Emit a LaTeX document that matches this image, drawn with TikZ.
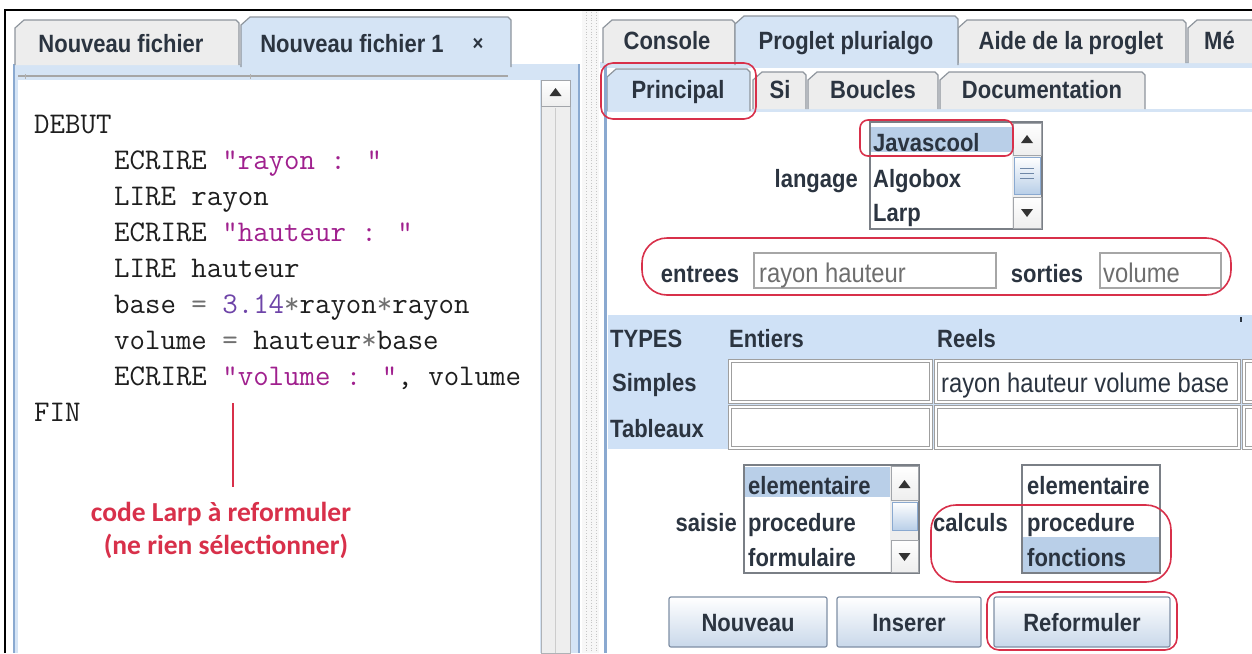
\documentclass[tikz,border=0pt]{standalone}
\usepackage{fontspec}
\newfontfamily\guifont[FakeStretch=0.88]{Liberation Sans}
\newfontfamily\annfont{Carlito}
\definecolor{tabgray}{HTML}{EDEDED}
\definecolor{tabborder}{HTML}{8E959D}
\definecolor{selblue}{HTML}{D5E4F5}
\definecolor{framebl}{HTML}{8AA9D0}
\definecolor{tablebg}{HTML}{CFE1F6}
\definecolor{listsel}{HTML}{B9CFE8}
\definecolor{redann}{HTML}{D8304A}
\definecolor{codetext}{HTML}{1E1E1E}
\definecolor{strc}{HTML}{A0208E}
\definecolor{numc}{HTML}{6E44A8}
\definecolor{opc}{HTML}{707070}
\definecolor{guitext}{HTML}{2B3440}
\definecolor{fieldtext}{HTML}{6E6E6E}
\definecolor{btnbottom}{HTML}{C9D8EA}
\definecolor{btnborder}{HTML}{7F8FA5}
\definecolor{listborder}{HTML}{7A7F86}
\definecolor{sbgray}{HTML}{EEEEEE}
\tikzset{
  gui/.style={font=\guifont\bfseries\fontsize{25}{30}\selectfont, inner sep=0, text=guitext},
  guir/.style={font=\guifont\fontsize{27}{32}\selectfont, inner sep=0},
  code/.style={font=\ttfamily\fontsize{30}{34}\selectfont\addfontfeatures{FakeBold=0.6}, inner sep=0, anchor=base west, text=codetext},
  ann/.style={font=\annfont\bfseries\fontsize{27.5}{33}\selectfont, inner sep=0, text=redann},
  tabg/.style={fill=tabgray, draw=tabborder, line width=1.2},
  tabs/.style={fill=selblue, draw=tabborder, line width=1.2},
  redmark/.style={draw=redann, line width=1.6},
  btn/.style={draw=btnborder, line width=1.2, top color=white, bottom color=btnbottom, rounded corners=2},
  lbox/.style={draw=listborder, line width=1.2, fill=white},
  sbtn/.style={draw=listborder!70, line width=0.8, top color=white, bottom color=sbgray},
  fieldbox/.style={draw=gray!70, line width=1.5, fill=white},
  cellbox/.style={draw=gray!75, line width=1, fill=white, double=white, double distance=1.2}
}
\newcommand{\uitab}[5][tabg]{\path[#1] (#2,#5) -- (#2,#4+8) -- (#2+9,#4) -- (#3-3,#4) -- (#3,#4+3) -- (#3,#5);}
\newcommand{\upar}[2]{\fill[black!80] (#1-6,#2+4) -- (#1+6,#2+4) -- (#1,#2-4) -- cycle;}
\newcommand{\dnar}[2]{\fill[black!80] (#1-6,#2-4) -- (#1+6,#2-4) -- (#1,#2+4) -- cycle;}
\def\op#1{{\color{opc}#1}}
\begin{document}
\begin{tikzpicture}[x=1pt,y=-1pt]
\path[use as bounding box] (0,0) rectangle (1252,653);
\clip (0,0) rectangle (1252,653);
\fill[white] (0,0) rectangle (1252,653);

% ---------- left panel ----------
\fill[selblue] (14,64) rectangle (580,653);
\draw[framebl, line width=1.5] (14,64) -- (14,653);
\draw[framebl, line width=1.5] (579,64) -- (579,653);
\fill[white] (18,80) rectangle (540,653);
\draw[gray!70, line width=2] (18,76) -- (508,76);
\draw[gray!60, line width=1] (25,74) -- (25,79) (250,74) -- (250,79);
\fill[sbgray] (541,80) rectangle (570,653);
\draw[listborder!60, line width=0.8] (541,80) rectangle (570,653);
\path[sbtn] (541,80) rectangle (570,106);
\upar{555.5}{92}
\draw[gray!40] (555,108) -- (555,653);

\uitab{15}{239}{20}{65}
\uitab[tabs]{241}{511}{17}{67}
\node[gui, anchor=base] (t1) at (121,52) {Nouveau fichier};
\node[gui, anchor=base] (t2) at (352,52) {Nouveau fichier 1};
\node[gui, anchor=base] (tx) at (478,50) {\fontsize{21}{24}\selectfont ×};

\node[code] (c0) at (34,133) {DEBUT};
\node[code] (c1) at (114,169) {ECRIRE {\color{strc}"rayon : "}};
\node[code] (c2) at (114,205) {LIRE rayon};
\node[code] (c3) at (114,241) {ECRIRE {\color{strc}"hauteur : "}};
\node[code] (c4) at (114,277) {LIRE hauteur};
\node[code] (c5) at (114,313) {base \op{=} {\color{numc}3.14}\op{*}rayon\op{*}rayon};
\node[code] (c6) at (114,349) {volume \op{=} hauteur\op{*}base};
\node[code] (c7) at (114,385) {ECRIRE {\color{strc}"volume : "}, volume};
\node[code] (c8) at (34,421) {FIN};

\node[ann, anchor=base] (a1) at (221,521) {code Larp à reformuler};
\node[ann, anchor=base] (a2) at (226,554) {(ne rien sélectionner)};
\coordinate (lt) at (233,403);
\draw[redann, line width=2] (lt) -- ([yshift=15pt]lt |- a1.north);

% divider
\fill[gray!6] (582,10) rectangle (599,653);
\foreach \xx in {586,591,596} \draw[gray!45, line width=0.8, dotted] (\xx,12) -- (\xx,653);

% ---------- right panel ----------
\fill[selblue] (600,62) rectangle (1252,68);
\uitab{603}{735}{20}{63}
\uitab{958}{1186}{20}{63}
\uitab{1188}{1270}{20}{63}
\uitab[tabs]{735}{958}{16}{65}
\node[gui, anchor=base] (o1) at (667,49) {Console};
\node[gui, anchor=base] (o2) at (846,49) {Proglet plurialgo};
\node[gui, anchor=base] (o3) at (1071,49) {Aide de la proglet};
\node[gui, anchor=base west] (o4) at (1204,49) {Mé};

\draw[selblue, line width=3] (605,110) -- (1252,110);
\uitab{753}{806}{72}{109}
\uitab{808}{938}{72}{109}
\uitab{940}{1145}{72}{109}
\uitab[tabs]{607}{750}{69}{111}
\draw[framebl, line width=3] (605,66) -- (605,653);
\node[gui, anchor=base] (i1) at (678,98) {Principal};
\node[gui, anchor=base] (i2) at (780,98) {Si};
\node[gui, anchor=base] (i3) at (873,98) {Boucles};
\node[gui, anchor=base] (i4) at (1042,98) {Documentation};
\draw[redmark, rounded corners=12] (601,63) rectangle (756,119);

% langage list
\path[lbox] (870,122) rectangle (1042,229);
\fill[listsel] (871,127) rectangle (1012,152);
\fill[sbgray] (1012,123) rectangle (1041,228);
\path[sbtn] (1013,123) rectangle (1041,155);
\upar{1027}{139}
\path[draw=framebl, line width=0.8, top color=white, bottom color=listsel] (1014,157) rectangle (1040,194);
\foreach \yy in {168,173,178} \draw[framebl!80!black, line width=0.8] (1020,\yy) -- (1034,\yy);
\path[sbtn] (1013,197) rectangle (1041,228);
\dnar{1027}{213}
\node[gui, anchor=base west] (l1) at (873,151) {Javascool};
\node[gui, anchor=base west] (l2) at (873,187) {Algobox};
\node[gui, anchor=base west] (l3) at (873,221) {Larp};
\node[gui, anchor=base east] (lab) at (858,187) {langage};
\draw[redmark, rounded corners=8] (860,120) rectangle (1013,156);

% entrees / sorties
\node[gui, anchor=base] (en) at (700,282) {entrees};
\path[fieldbox] (754,253) rectangle (996,288);
\node[guir, anchor=base west, text=fieldtext] (env) at (759,282) {rayon hauteur};
\node[gui, anchor=base] (so) at (1047,282) {sorties};
\path[fieldbox] (1100,253) rectangle (1221,288);
\node[guir, anchor=base west, text=fieldtext] (sov) at (1103,282) {volume};
\draw[redmark, rounded corners=25] (642,238) rectangle (1231,295);

% types table
\fill[tablebg] (608,315) rectangle (1252,449);
\node[gui, anchor=base west] (h1) at (610,347) {TYPES};
\node[gui, anchor=base west] (h2) at (729,347) {Entiers};
\node[gui, anchor=base west] (h3) at (937,347) {Reels};
\fill[guitext] (1240,317) rectangle (1241.5,322);
\path[cellbox] (730,361) rectangle (931,402);
\path[cellbox] (936,361) rectangle (1239,402);
\path[cellbox] (1244,361) rectangle (1270,402);
\path[cellbox] (730,407) rectangle (931,448);
\path[cellbox] (936,407) rectangle (1239,448);
\path[cellbox] (1244,407) rectangle (1270,448);
\node[gui, anchor=base west] (r1) at (612,391) {Simples};
\node[gui, anchor=base west] (r2) at (610,437) {Tableaux};
\node[guir, anchor=base west, text=guitext] (cv) at (941,392) {rayon hauteur volume base};

% saisie list
\node[gui, anchor=base east] (sa) at (737,531) {saisie};
\path[lbox] (744,465) rectangle (919,573);
\fill[listsel] (745,467) rectangle (890,497);
\fill[sbgray] (890,466) rectangle (918,572);
\path[sbtn] (891,466) rectangle (918,500);
\upar{904.5}{484}
\path[draw=framebl, line width=0.8, top color=white, bottom color=listsel] (892,502) rectangle (917,530);
\path[sbtn] (891,540) rectangle (918,572);
\dnar{904.5}{557}
\node[gui, anchor=base west] (s1) at (748,494) {elementaire};
\node[gui, anchor=base west] (s2) at (748,531) {procedure};
\node[gui, anchor=base west] (s3) at (748,566) {formulaire};

% calculs list
\node[gui, anchor=base west] (ca) at (933,531) {calculs};
\path[lbox] (1022,465) rectangle (1160,573);
\fill[listsel] (1023,537) rectangle (1159,572);
\node[gui, anchor=base west] (k1) at (1027,494) {elementaire};
\node[gui, anchor=base west] (k2) at (1027,531) {procedure};
\node[gui, anchor=base west] (k3) at (1027,566) {fonctions};
\draw[redmark, rounded corners=25] (931,505) rectangle (1171,582);

% buttons
\path[btn] (669,597) rectangle (827,647);
\path[btn] (837,597) rectangle (981,647);
\path[btn] (994,597) rectangle (1170,647);
\node[gui, anchor=base] (b1) at (748,631) {Nouveau};
\node[gui, anchor=base] (b2) at (909,631) {Inserer};
\node[gui, anchor=base] (b3) at (1082,631) {Reformuler};
\draw[redmark, rounded corners=12] (987,592) rectangle (1177,650);

% outer frame
\draw[black, line width=1.5] (5,653) -- (5,10) -- (1252,10);
\end{tikzpicture}
\end{document}
